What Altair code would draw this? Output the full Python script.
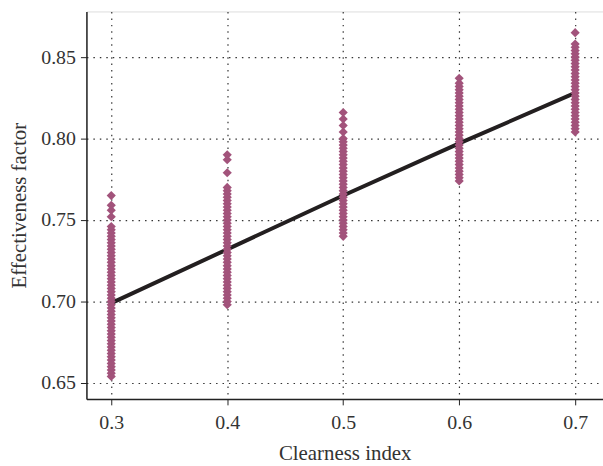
import altair as alt
import pandas as pd

# Effectiveness factor observations per clearness index
k03 = [0.654, 0.656, 0.658, 0.660, 0.662, 0.664, 0.666, 0.668, 0.670, 0.672,
       0.674, 0.676, 0.678, 0.680, 0.682, 0.684, 0.686, 0.688, 0.690, 0.692,
       0.694, 0.696, 0.698, 0.700, 0.702, 0.704, 0.706, 0.708, 0.710, 0.712,
       0.714, 0.716, 0.718, 0.720, 0.722, 0.724, 0.726, 0.728, 0.730, 0.732,
       0.734, 0.736, 0.738, 0.740, 0.742, 0.744, 0.746, 0.752, 0.756, 0.759,
       0.765]
k04 = [0.698, 0.700, 0.702, 0.704, 0.706, 0.708, 0.710, 0.712, 0.714, 0.716,
       0.718, 0.720, 0.722, 0.724, 0.726, 0.728, 0.730, 0.732, 0.734, 0.736,
       0.738, 0.740, 0.742, 0.744, 0.746, 0.748, 0.750, 0.752, 0.754, 0.756,
       0.758, 0.760, 0.762, 0.764, 0.766, 0.768, 0.770, 0.779, 0.787, 0.790]
k05 = [0.740, 0.742, 0.744, 0.746, 0.748, 0.750, 0.752, 0.754, 0.756, 0.758,
       0.760, 0.762, 0.764, 0.766, 0.768, 0.770, 0.772, 0.774, 0.776, 0.778,
       0.780, 0.782, 0.784, 0.786, 0.788, 0.790, 0.792, 0.794, 0.796, 0.798,
       0.800, 0.804, 0.808, 0.812, 0.816]
k06 = [0.774, 0.776, 0.778, 0.780, 0.782, 0.784, 0.786, 0.788, 0.790, 0.792,
       0.794, 0.796, 0.798, 0.800, 0.802, 0.804, 0.806, 0.808, 0.810, 0.812,
       0.814, 0.816, 0.818, 0.820, 0.822, 0.824, 0.826, 0.828, 0.830, 0.832,
       0.834, 0.837]
k07 = [0.804, 0.806, 0.808, 0.810, 0.812, 0.814, 0.816, 0.818, 0.820, 0.822,
       0.824, 0.826, 0.828, 0.830, 0.832, 0.834, 0.836, 0.838, 0.840, 0.842,
       0.844, 0.846, 0.848, 0.850, 0.852, 0.854, 0.856, 0.858, 0.865]

clearness = [0.3, 0.4, 0.5, 0.6, 0.7]
fit_values = [0.699, 0.732, 0.765, 0.797, 0.828]

rows = []
for k, vals in zip(clearness, [k03, k04, k05, k06, k07]):
    for v in vals:
        rows.append({"k": k, "e": v})
pts = pd.DataFrame(rows)
fit = pd.DataFrame({"k": clearness, "e": fit_values})

FONT = "Liberation Serif"

xscale = alt.Scale(domain=[0.2786, 0.7240], nice=False, zero=False)
yscale = alt.Scale(domain=[0.6402, 0.878], nice=False, zero=False)

xaxis = alt.Axis(title="Clearness index", values=clearness, format=".1f",
                 grid=True, gridDash=[1.5, 5], gridColor="#333", gridWidth=1.2,
                 tickSize=6, tickColor="#222", domainColor="#222", domainWidth=1.5,
                 labelFont=FONT, labelFontSize=20, labelColor="#333", labelPadding=8,
                 titleFont=FONT, titleFontSize=21, titleFontWeight="normal",
                 titleColor="#333", titlePadding=10)
yaxis = alt.Axis(title="Effectiveness factor", values=[0.65, 0.70, 0.75, 0.80, 0.85],
                 format=".2f",
                 grid=True, gridDash=[1.5, 5], gridColor="#333", gridWidth=1.2,
                 tickSize=6, tickColor="#222", domainColor="#222", domainWidth=1.5,
                 labelFont=FONT, labelFontSize=20, labelColor="#333", labelPadding=5,
                 titleFont=FONT, titleFontSize=21, titleFontWeight="normal",
                 titleColor="#333", titlePadding=11)

points = alt.Chart(pts).mark_point(shape="diamond", filled=True, size=85,
                                   color="#a2537b", opacity=1).encode(
    x=alt.X("k:Q", scale=xscale, axis=xaxis),
    y=alt.Y("e:Q", scale=yscale, axis=yaxis),
)

line = alt.Chart(fit).mark_line(color="#231f20", strokeWidth=4).encode(
    x=alt.X("k:Q", scale=xscale),
    y=alt.Y("e:Q", scale=yscale),
)

chart = alt.layer(line, points).properties(
    width=520, height=390,
    autosize=alt.AutoSizeParams(type="none"),
    padding={"left": 87, "top": 10, "right": 0, "bottom": 66},
).configure_view(stroke="#222", strokeWidth=1.5).configure(background="white")

chart.save("out.html", embed_options={"renderer": "svg", "actions": False})
